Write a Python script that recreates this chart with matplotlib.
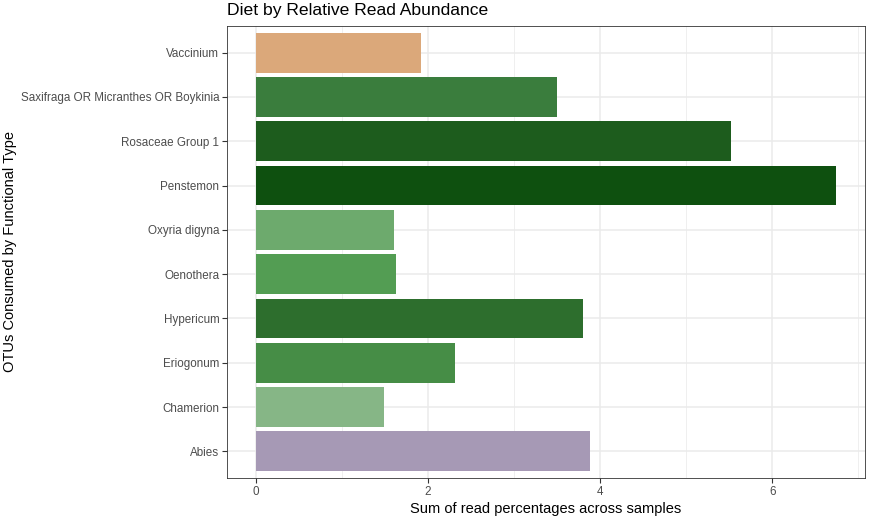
import matplotlib
matplotlib.use("Agg")
import matplotlib.pyplot as plt
from matplotlib.ticker import FixedLocator

categories = ["Abies", "Chamerion", "Eriogonum", "Hypericum", "Oenothera",
              "Oxyria digyna", "Penstemon", "Rosaceae Group 1",
              "Saxifraga OR Micranthes OR Boykinia", "Vaccinium"]
values = [3.886, 1.485, 2.31, 3.80, 1.624, 1.60, 6.74, 5.52, 3.50, 1.914]
colors = ["#A699B5", "#86B686", "#468D46", "#2D6E2D", "#539D53",
          "#6DAA6D", "#0E500F", "#1D5C1D", "#3A7D3D", "#DBA87A"]
x_ticks = [0, 2, 4, 6]
x_minor = [1, 3, 5, 7]

plt.rcParams['font.family'] = ['Liberation Sans', 'DejaVu Sans']

W, H = 872, 518
fig = plt.figure(figsize=(W / 100, H / 100), dpi=100)
left, right, top, bottom = 227, 865, 26, 478
ax = fig.add_axes([left / W, 1 - bottom / H, (right - left) / W, (bottom - top) / H])

pos = list(range(len(categories)))
ax.barh(pos, values, height=0.9, color=colors, zorder=2)

vmax = max(values)
ax.set_xlim(-0.05 * vmax, 1.05 * vmax)
ax.set_ylim(-0.6, len(categories) - 1 + 0.6)

ax.xaxis.set_major_locator(FixedLocator(x_ticks))
ax.xaxis.set_minor_locator(FixedLocator(x_minor))
ax.set_yticks(pos)
ax.set_yticklabels(categories)

ax.grid(True, which='major', color='#EBEBEB', linewidth=1.1, zorder=0)
ax.grid(True, which='minor', axis='x', color='#EBEBEB', linewidth=0.55, zorder=0)
ax.set_axisbelow(True)

ax.tick_params(axis='both', which='major', length=3.5, width=0.8, color='#333333',
               labelcolor='#4D4D4D', labelsize=8.4, pad=2)
ax.tick_params(axis='x', which='minor', length=0)
for s in ax.spines.values():
    s.set_color('#333333')
    s.set_linewidth(0.6)

ax.set_xlabel("Sum of read percentages across samples", fontsize=10.5, color='black', labelpad=3)
fig.text(10 / W, 1 - 252 / H, "OTUs Consumed by Functional Type", fontsize=10.5,
         rotation=90, ha='center', va='center', color='black')
fig.text(left / W, 1 - 15 / H, "Diet by Relative Read Abundance", fontsize=12.6,
         ha='left', va='baseline', color='black')

fig.savefig("out.png", dpi=100)
